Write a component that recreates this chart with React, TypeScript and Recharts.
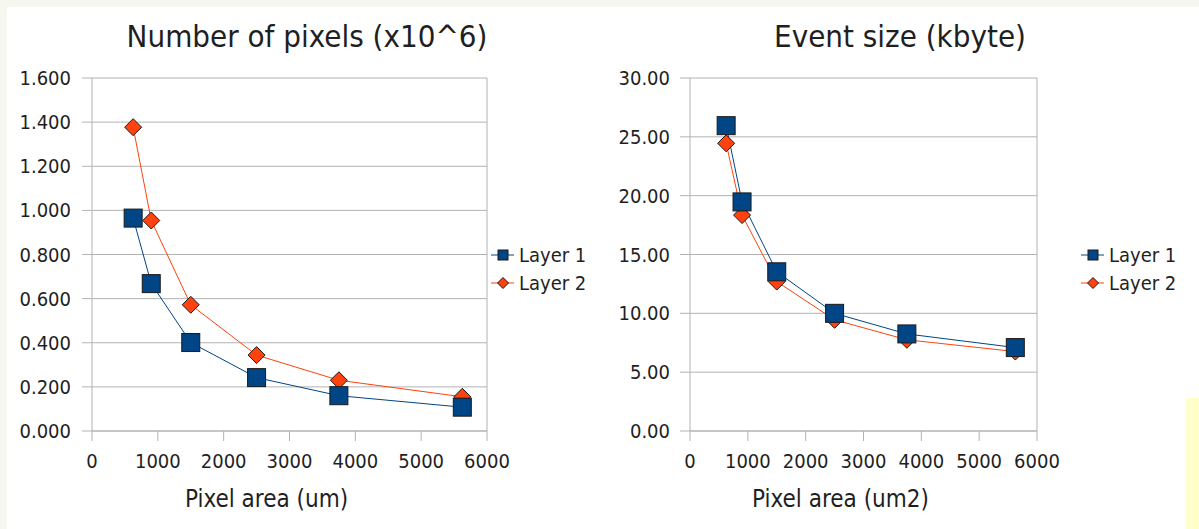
import { LineChart, Line, XAxis, YAxis, CartesianGrid, ReferenceLine, Label } from "recharts";

const AREA = [625, 900, 1500, 2500, 3750, 5625];
const PIXELS_L1 = [0.965, 0.668, 0.401, 0.242, 0.16, 0.108];
const PIXELS_L2 = [1.377, 0.954, 0.572, 0.344, 0.23, 0.155];
const EVENT_L1 = [25.95, 19.47, 13.53, 10.0, 8.25, 7.09];
const EVENT_L2 = [24.45, 18.35, 12.7, 9.45, 7.75, 6.75];

const AREA_TICKS = [0, 1000, 2000, 3000, 4000, 5000, 6000];
const PIXEL_TICKS = [0, 0.2, 0.4, 0.6, 0.8, 1.0, 1.2, 1.4, 1.6];
const EVENT_TICKS = [0, 5, 10, 15, 20, 25, 30];

const FONT = '"DejaVu Sans Condensed", "DejaVu Sans", sans-serif';
const BLUE = "#004586";
const RED = "#ff420e";
const GRID = "#b3b3b3";
const TXT = "#1f1f1f";

const pixelData = AREA.map((a, i) => ({ area: a, l1: PIXELS_L1[i], l2: PIXELS_L2[i] }));
const eventData = AREA.map((a, i) => ({ area: a, l1: EVENT_L1[i], l2: EVENT_L2[i] }));

const squareDot = (p: any) => (
  <rect key={`s${p.index}`} x={p.cx - 9} y={p.cy - 9} width={18} height={18} fill={BLUE} stroke="#1a1a1a" strokeWidth={1} />
);

const diamondDot = (p: any) => (
  <path
    key={`d${p.index}`}
    d={`M${p.cx},${p.cy - 8.5}L${p.cx + 8.5},${p.cy}L${p.cx},${p.cy + 8.5}L${p.cx - 8.5},${p.cy}Z`}
    fill={RED}
    stroke="#1a1a1a"
    strokeWidth={1}
  />
);

function LegendBox({ left }: { left: number }) {
  const row = (label: string, color: string, square: boolean, top: number) => (
    <div style={{ position: "absolute", left, top, height: 20, display: "flex", alignItems: "center" }}>
      <svg width={26} height={20}>
        <line x1={1} y1={10} x2={24} y2={10} stroke={color} strokeWidth={1} />
        {square ? (
          <rect x={8} y={5} width={10} height={10} fill={BLUE} stroke="#1a1a1a" strokeWidth={1} />
        ) : (
          <path d="M13,4.5L18.5,10L13,15.5L7.5,10Z" fill={RED} stroke="#1a1a1a" strokeWidth={1} />
        )}
      </svg>
      <span style={{ marginLeft: 3, fontFamily: FONT, fontSize: 20, lineHeight: "20px", color: TXT }}>{label}</span>
    </div>
  );
  return (
    <>
      {row("Layer 1", BLUE, true, 245)}
      {row("Layer 2", RED, false, 273)}
    </>
  );
}

interface PanelProps {
  data: { area: number; l1: number; l2: number }[];
  left: number;
  width: number;
  axisWidth: number;
  rightMargin: number;
  yTicks: number[];
  yMax: number;
  digits: number;
  tickGap: number;
  xLabel: string;
}

function Panel({ data, left, width, axisWidth, rightMargin, yTicks, yMax, digits, tickGap, xLabel }: PanelProps) {
  const tickStyle = { fontSize: 20, fill: TXT, fontFamily: FONT };
  return (
    <div style={{ position: "absolute", left, top: 0 }}>
      <LineChart width={width} height={529} data={data} margin={{ top: 78, right: rightMargin, left: 0, bottom: 0 }}>
        <CartesianGrid vertical={false} stroke={GRID} horizontalValues={yTicks} />
        <XAxis
          dataKey="area"
          type="number"
          domain={[0, 6000]}
          ticks={AREA_TICKS}
          interval={0}
          stroke={GRID}
          tickSize={10}
          tickMargin={13}
          tick={tickStyle}
          height={98}
        >
          <Label value={xLabel} position="insideBottom" offset={22} dx={-23} style={{ fontSize: 24, fill: TXT, fontFamily: FONT }} />
        </XAxis>
        <YAxis
          type="number"
          domain={[0, yMax]}
          ticks={yTicks}
          interval={0}
          width={axisWidth}
          stroke={GRID}
          tickSize={10}
          tickMargin={tickGap}
          tick={tickStyle}
          tickFormatter={(v: number) => v.toFixed(digits)}
        />
        <ReferenceLine x={6000} stroke={GRID} />
        <Line dataKey="l2" type="linear" stroke={RED} strokeWidth={1} dot={diamondDot} activeDot={false} isAnimationActive={false} />
        <Line dataKey="l1" type="linear" stroke={BLUE} strokeWidth={1} dot={squareDot} activeDot={false} isAnimationActive={false} />
      </LineChart>
    </div>
  );
}

const titleStyle = (center: number): React.CSSProperties => ({
  position: "absolute",
  left: center - 250,
  width: 500,
  top: 21,
  textAlign: "center",
  fontFamily: FONT,
  fontSize: 31,
  lineHeight: "31px",
  color: TXT,
});

export default function App() {
  return (
    <div style={{ position: "relative", width: 1199, height: 529, background: "#f7f7f1", overflow: "hidden" }}>
      <style>{`body{margin:0}`}</style>
      <div style={{ position: "absolute", left: 7, top: 7, width: 1192, height: 522, background: "#ffffff" }} />
      <div style={{ position: "absolute", left: 1186, top: 398, width: 13, height: 131, background: "#ffffcc" }} />
      <div style={titleStyle(307)}>Number of pixels (x10^6)</div>
      <div style={titleStyle(900)}>Event size (kbyte)</div>
      <Panel
        data={pixelData}
        left={0}
        width={600}
        axisWidth={92}
        rightMargin={113}
        yTicks={PIXEL_TICKS}
        yMax={1.6}
        digits={3}
        tickGap={11}
        xLabel="Pixel area (um)"
      />
      <Panel
        data={eventData}
        left={600}
        width={500}
        axisWidth={90}
        rightMargin={63}
        yTicks={EVENT_TICKS}
        yMax={30}
        digits={2}
        tickGap={10}
        xLabel="Pixel area (um2)"
      />
      <LegendBox left={490} />
      <LegendBox left={1080} />
    </div>
  );
}
